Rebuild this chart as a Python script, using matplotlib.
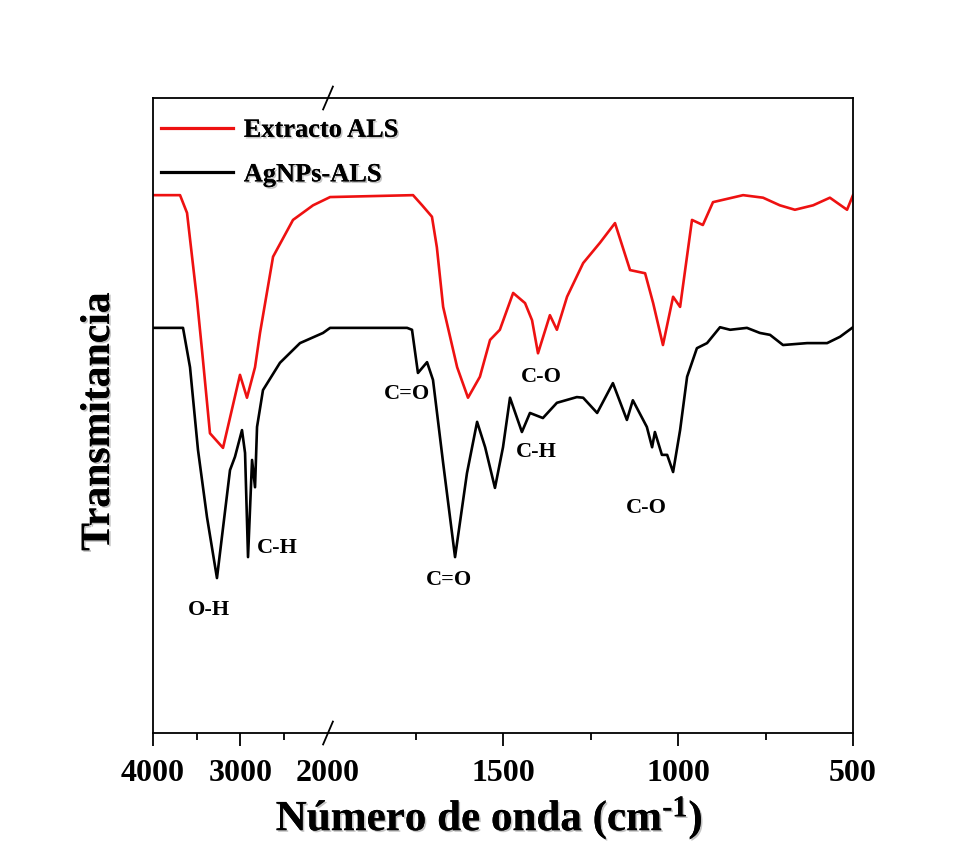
import numpy as np
import matplotlib
matplotlib.use("Agg")
import matplotlib.pyplot as plt
import matplotlib.patheffects as pe

# ---------------- data ----------------
wn_extracto = [4000, 3691, 3611, 3497, 3440, 3349, 3200, 3006, 2926, 2834, 2777, 2628,
               2400, 2171, 1994, 1757, 1731, 1703, 1689, 1671, 1631, 1600, 1566, 1537,
               1509, 1471, 1437, 1417, 1400, 1366, 1346, 1317, 1271, 1223, 1180, 1137,
               1094, 1071, 1043, 1014, 994, 960, 929, 900, 814, 757, 709, 666, 614, 566,
               517, 500]
t_extracto = [84.7, 84.7, 81.9, 68.2, 60.3, 47.2, 44.9, 56.4, 52.8, 57.6, 63.0, 75.0,
              80.8, 83.1, 84.4, 84.7, 83.1, 81.3, 76.5, 67.1, 57.6, 52.8, 56.1, 61.9,
              63.5, 69.3, 67.7, 65.0, 59.8, 65.8, 63.5, 68.7, 74.0, 77.2, 80.3, 72.9,
              72.4, 67.7, 61.1, 68.7, 67.1, 80.8, 80.0, 83.6, 84.7, 84.3, 83.1, 82.4,
              83.1, 84.3, 82.4, 84.7]

wn_agnps = [4000, 3657, 3577, 3486, 3383, 3269, 3120, 3063, 2983, 2948, 2914, 2868, 2834,
            2811, 2743, 2549, 2320, 2057, 1994, 1774, 1760, 1743, 1717, 1700, 1671, 1637,
            1603, 1574, 1551, 1523, 1500, 1480, 1446, 1423, 1386, 1346, 1289, 1271, 1231,
            1186, 1146, 1129, 1089, 1074, 1066, 1046, 1031, 1014, 994, 974, 946, 917, 880,
            851, 803, 766, 737, 700, 631, 574, 537, 500]
t_agnps = [63.8, 63.8, 57.6, 44.6, 34.0, 24.4, 41.4, 43.5, 47.7, 44.1, 27.7, 43.0, 38.7,
           48.2, 54.0, 58.3, 61.4, 63.0, 63.8, 63.8, 63.5, 56.7, 58.4, 55.6, 42.5, 27.7,
           40.9, 49.0, 45.0, 38.6, 45.0, 52.8, 47.4, 50.4, 49.6, 52.0, 52.9, 52.8, 50.4,
           55.1, 49.3, 52.4, 48.2, 45.0, 47.4, 43.8, 43.8, 41.1, 47.7, 56.1, 60.6, 61.4,
           63.9, 63.5, 63.8, 63.0, 62.7, 61.1, 61.4, 61.4, 62.4, 63.9]

series_names = ["Extracto ALS", "AgNPs-ALS"]

band_labels = ["O-H", "C-H", "C=O", "C=O", "C-O", "C-H", "C-O"]
band_wn = [3360, 2583, 1774, 1654, 1391, 1406, 1089]
band_t = [19.4, 29.1, 53.4, 24.1, 56.1, 44.3, 35.4]

major_ticks = [4000, 3000, 2000, 1500, 1000, 500]
major_labels = ["4000", "3000", "2000", "1500", "1000", "500"]
minor_ticks = [3500, 2500, 1750, 1250, 750]

# ---------------- style ----------------
plt.rcParams['font.family'] = ['Liberation Serif', 'DejaVu Serif']
plt.rcParams['font.weight'] = 'bold'
plt.rcParams['mathtext.fontset'] = 'custom'
plt.rcParams['mathtext.rm'] = 'Liberation Serif:bold'
plt.rcParams['mathtext.bf'] = 'Liberation Serif:bold'
plt.rcParams['mathtext.it'] = 'Liberation Serif:bold'

RED = '#ee1111'
BREAK = 2000.0


def fwd(w):
    w = np.asarray(w, dtype=float)
    return np.where(w <= BREAK, w, BREAK + (w - BREAK) / 4.0)


def inv(u):
    u = np.asarray(u, dtype=float)
    return np.where(u <= BREAK, u, BREAK + (u - BREAK) * 4.0)


fig = plt.figure(figsize=(9.72, 8.48), dpi=100)
ax = fig.add_axes([153 / 972, 1 - 733 / 848, 700 / 972, 635 / 848])
ax.set_xscale('function', functions=(fwd, inv))
ax.set_xlim(4000, 500)
ax.set_ylim(0, 100)

ax.plot(wn_extracto, t_extracto, color=RED, lw=1.9, label=series_names[0])
ax.plot(wn_agnps, t_agnps, color='black', lw=1.9, label=series_names[1])

shadow = [pe.withSimplePatchShadow(offset=(1.2, -1.2), shadow_rgbFace='#888888', alpha=0.5), pe.Normal()]

for lab, w, t in zip(band_labels, band_wn, band_t):
    ax.text(w, t, lab, ha='center', va='center', fontsize=16, fontweight='bold')

# ticks
ax.set_xticks(major_ticks)
ax.set_xticklabels(major_labels)
ax.set_xticks(minor_ticks, minor=True)
ax.tick_params(axis='x', which='major', direction='out', length=9, width=1.3,
               labelsize=23, pad=10, top=False)
ax.tick_params(axis='x', which='minor', direction='out', length=5, width=1.3, top=False)
ax.tick_params(axis='y', left=False, right=False, labelleft=False)
for tk in ax.xaxis.get_major_ticks():
    if tk.get_loc() == 2000:
        tk.tick1line.set_visible(False)
for lbl in ax.get_xticklabels():
    lbl.set_fontweight('bold')

for s in ax.spines.values():
    s.set_linewidth(1.3)

# axis break marks
xb = (fwd(4000) - fwd(2000)) / (fwd(4000) - fwd(500))
dx, dy = 0.007, 0.018
for yb in (0.0, 1.0):
    ax.plot([xb - dx, xb + dx], [yb - dy, yb + dy], transform=ax.transAxes,
            color='black', lw=1.3, clip_on=False)

# labels
ax.set_ylabel('Transmitancia', fontsize=30, fontweight='bold', path_effects=shadow)
ax.yaxis.set_label_coords(-0.05, 0.49)
ax.set_xlabel(r'Número de onda (cm$^{\text{-1}}$)', fontsize=31, fontweight='bold',
              path_effects=shadow)
ax.xaxis.set_label_coords(0.48, -0.1)

leg = ax.legend(loc='upper left', bbox_to_anchor=(0.012, 0.968), frameon=False,
                handlelength=2.7, handletextpad=0.42, labelspacing=0.8,
                borderpad=0, borderaxespad=0, prop={'weight': 'bold', 'size': 19})
for line in leg.get_lines():
    line.set_linewidth(2.3)
for t in leg.get_texts():
    t.set_path_effects(shadow)

fig.savefig('out.png', dpi=100)
